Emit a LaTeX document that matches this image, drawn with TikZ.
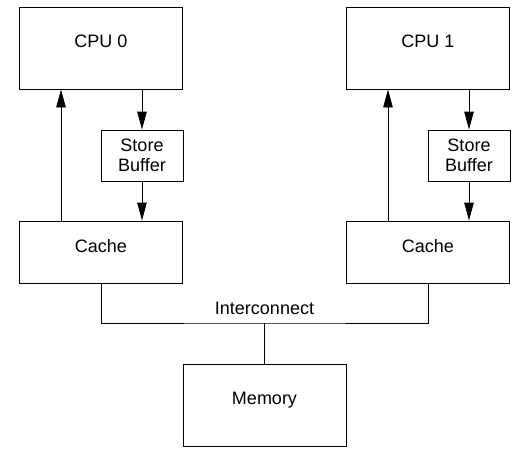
\documentclass[tikz,border=0pt]{standalone}
\usepackage{fontspec}
\setmainfont{Liberation Sans}
\usepackage{tikz}
\usetikzlibrary{arrows.meta}

\begin{document}
\begin{tikzpicture}[x=1pt, y=-1pt, line width=0.9pt,
    every node/.style={font=\fontsize{18}{20}\selectfont},
    unit/.style={draw, rectangle, inner sep=0pt, minimum width=163pt, text depth=13pt},
    sbuf/.style={draw, rectangle, inner sep=0pt, minimum width=82pt, minimum height=51pt, align=center},
    flow/.style={-{Triangle[length=18pt, width=9.5pt]}}]
            \useasboundingbox (0,0) rectangle (515,451);

            \node[unit, minimum height=82pt] at (101, 48)   (cpu0) {CPU 0};
            \node[unit, minimum height=82pt] at (428, 48)   (cpu1) {CPU 1};
            \node[sbuf] at (142, 155.5)   (sb0) {Store\\Buffer};
            \node[sbuf] at (469, 155.5)   (sb1) {Store\\Buffer};
            \node[unit, minimum height=62pt] at (101, 252)   (cache0) {Cache};
            \node[unit, minimum height=62pt] at (428, 252)   (cache1) {Cache};
            \node[unit, minimum height=82pt] at (264.5, 405)   (mem) {Memory};
            \node at (264.5, 308)   (icn) {Interconnect};
            \coordinate (bus) at (264.5, 323);

            \draw [flow] (sb0.north |- cpu0.south) -- (sb0.north);
            \draw [flow] (sb0.south) -- (sb0.south |- cache0.north);
            \draw [flow] ([xshift=-40pt]cache0.north) -- ([xshift=-40pt]cpu0.south);
            \draw [flow] (sb1.north |- cpu1.south) -- (sb1.north);
            \draw [flow] (sb1.south) -- (sb1.south |- cache1.north);
            \draw [flow] ([xshift=-40pt]cache1.north) -- ([xshift=-40pt]cpu1.south);
            \draw (cache0.south) |- (bus) -| (cache1.south);
            \draw (bus) -- (mem.north);
        \end{tikzpicture}
\end{document}
